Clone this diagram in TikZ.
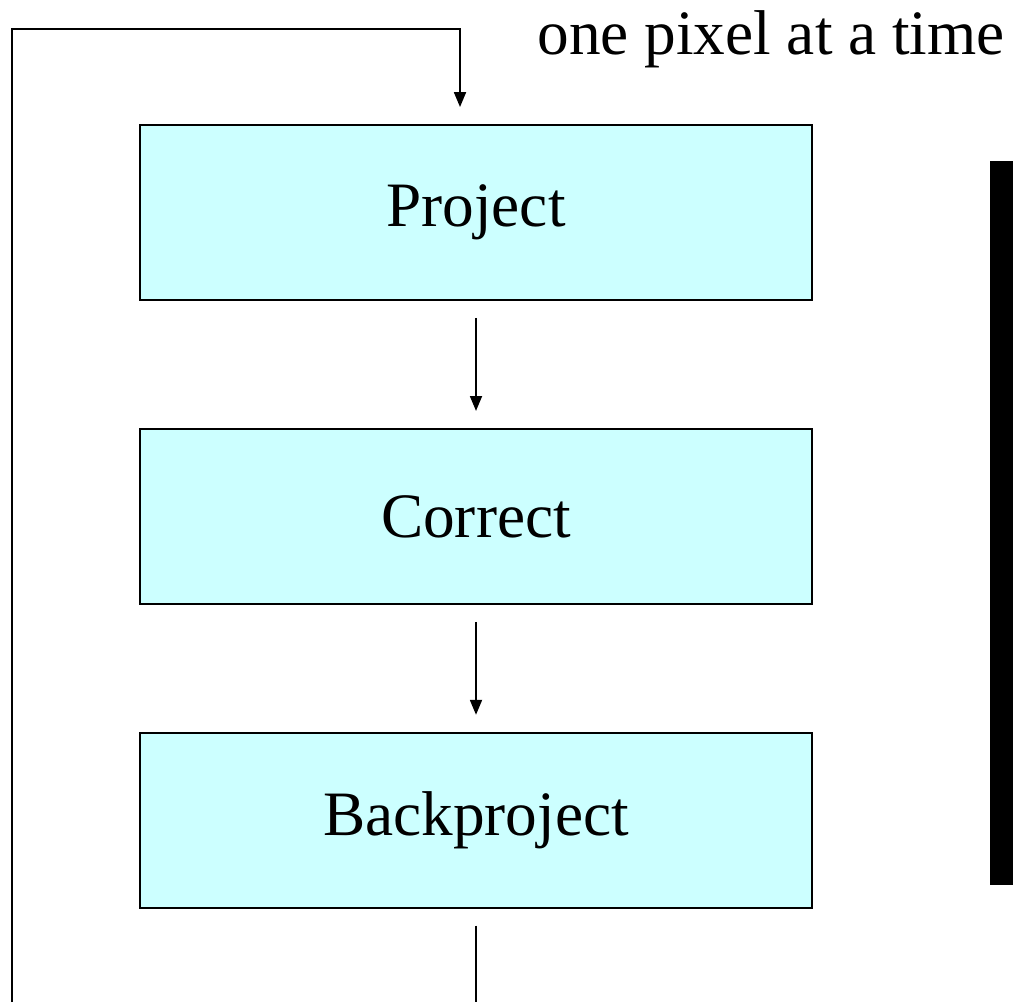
\documentclass[tikz,border=0pt]{standalone}
\usepackage{fontspec}
\setmainfont{Liberation Serif}
\usepackage{tikz}
\usetikzlibrary{arrows.meta}
\usetikzlibrary{positioning}
\definecolor{stagefill}{RGB}{204,255,255}
\tikzset{>={Triangle[length=8.5pt,width=6.8pt]}}
\tikzstyle{stage}=[draw=black,fill=stagefill,line width=1.1pt,
                   minimum width=13.44cm,minimum height=3.5cm,inner sep=0pt,
                   font=\fontsize{36}{40}\selectfont]
\tikzstyle{flow}=[->,black,line width=1.1pt,shorten <=0.34cm,shorten >=0.34cm]

\begin{document}
\begin{tikzpicture}[x=0.02cm,y=-0.02cm]

        \def\xloop{12} % x of the feedback line
        \def\yloop{29} % top of the feedback line
        \def\ybot{1002} % bottom edge
        \useasboundingbox (0,0) rectangle (1013,\ybot);

        % STAGES
        \node[stage] (proj) at (476,212.5) {Project};
        \node[stage,below=2.54cm of proj] (corr) {Correct};
        \node[stage,below=2.54cm of corr] (back) {Backproject};

        \coordinate (in) at ([xshift=-16*0.02cm]proj.north);
        \coordinate (out) at (back.south |- 0,\ybot);
        \coordinate (L) at (\xloop,\ybot);

        % ARROWS
        \draw[flow] (proj) -- (corr);
        \draw[flow] (corr) -- (back);
        \draw[line width=1.1pt,shorten <=0.34cm] (back.south) -- (out);

        % FEEDBACK LOOP
        \draw[->,line width=1.1pt,shorten >=0.34cm]
            (L) -- (\xloop,\yloop) -| (in);

        % label
        \node[anchor=base east,inner sep=0pt,font=\fontsize{36}{40}\selectfont]
            (lbl) at (1005,54) {one pixel at a time};

        % bar
        \fill[black] (990,161) rectangle (1013,885);

\end{tikzpicture}
\end{document}
